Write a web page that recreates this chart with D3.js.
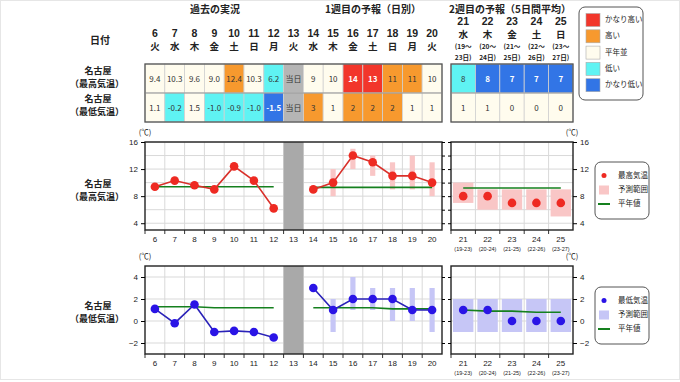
<!DOCTYPE html>
<html>
<head>
<meta charset="utf-8">
<script src="https://cdn.jsdelivr.net/npm/d3@7"></script>
<style>
  body { margin: 0; background: #fff; }
  svg { font-family: "Noto Sans CJK JP", "Liberation Sans", sans-serif; }
</style>
</head>
<body>
<div id="chart"></div>
<script>
// days / labels
var days1 = ["6","7","8","9","10","11","12","13","14","15","16","17","18","19","20"];
var wdays1 = ["火","水","木","金","土","日","月","火","水","木","金","土","日","月","火"];
var days2 = ["21","22","23","24","25"];
var wdays2 = ["水","木","金","土","日"];
var spanFrom2 = ["(19〜","(20〜","(21〜","(22〜","(23〜"];
var spanTo2 = ["23日)","24日)","25日)","26日)","27日)"];
var spanAxis2 = ["(19-23)","(20-24)","(21-25)","(22-26)","(23-27)"];

// table values and classes (vh=かなり高い, h=高い, n=平年並, l=低い, vl=かなり低い, t=当日)
var maxTable1 = ["9.4","10.3","9.6","9.0","12.4","10.3","6.2","当日","9","10","14","13","11","11","10"];
var maxClass1 = ["n","n","n","n","h","n","l","t","n","n","vh","vh","h","h","n"];
var minTable1 = ["1.1","-0.2","1.5","-1.0","-0.9","-1.0","-1.5","当日","3","1","2","2","2","1","1"];
var minClass1 = ["n","l","n","l","l","l","vl","t","h","n","h","h","h","n","n"];
var maxTable2 = ["8","8","7","7","7"];
var maxClass2 = ["l","vl","vl","vl","vl"];
var minTable2 = ["1","1","0","0","0"];
var minClass2 = ["n","n","n","n","n"];

// chart series
var pastDays = ["6","7","8","9","10","11","12"];
var fcDays = ["14","15","16","17","18","19","20"];

var maxPast = [9.4, 10.3, 9.6, 9.0, 12.4, 10.3, 6.2];
var maxPastNormal = [9.4, 9.4, 9.4, 9.4, 9.4, 9.4, 9.4];
var maxFc = [9, 10, 14, 13, 11, 11, 10];
var maxFcLow = [null, 8, 12, 11, 9, 9, 8];
var maxFcHigh = [null, 12, 15, 14, 13, 14, 13];
var maxFcNormal = [9.3, 9.3, 9.3, 9.3, 9.3, 9.3, 9.3];
var maxWk2 = [8, 8, 7, 7, 7];
var maxWk2Low = [7, 6, 6, 6, 5];
var maxWk2High = [10, 9, 9, 9, 9];
var maxWk2Normal = [9.2, 9.2, 9.2, 9.2, 9.2];

var minPast = [1.1, -0.2, 1.5, -1.0, -0.9, -1.0, -1.5];
var minPastNormal = [1.3, 1.3, 1.3, 1.2, 1.2, 1.2, 1.2];
var minFc = [3, 1, 2, 2, 2, 1, 1];
var minFcLow = [null, -1, 1, 1, 0, 0, -1];
var minFcHigh = [null, 2, 4, 3, 3, 3, 3];
var minFcNormal = [1.2, 1.2, 1.2, 1.2, 1.1, 1.1, 1.1];
var minWk2 = [1, 1, 0, 0, 0];
var minWk2Low = [-1, -1, -1, -1, -1];
var minWk2High = [2, 2, 2, 2, 2];
var minWk2Normal = [1.0, 0.9, 0.9, 0.8, 0.8];

var legendCats = ["vh","h","n","l","vl"];
var legendNames = ["かなり高い","高い","平年並","低い","かなり低い"];

var W = 680, H = 382;
var fillOf = {vh: "#f2362b", h: "#f7992e", n: "#fffcee", l: "#5ff3f3", vl: "#3275e6", t: "#b5b5b5"};
var numFont = "Liberation Sans, sans-serif";

var svg = d3.select("#chart").append("svg")
  .attr("width", W).attr("height", H);

svg.append("rect").attr("x", 0.5).attr("y", 0.5).attr("width", W - 1).attr("height", H - 3)
  .attr("fill", "#fff").attr("stroke", "#e6e6e6");

var x1 = d3.scaleBand().domain(days1).range([145, 442]);
var x2 = d3.scaleBand().domain(days2).range([451, 573]);

// ---- header ----
function txt(x, y, s, size, opts) {
  opts = opts || {};
  var t = svg.append("text").attr("x", x).attr("y", y)
    .attr("text-anchor", opts.anchor || "middle")
    .attr("dominant-baseline", "middle")
    .style("font-size", size + "px")
    .style("font-weight", opts.bold ? "bold" : "normal")
    .attr("fill", opts.fill || "#222")
    .text(s);
  if (opts.font) t.style("font-family", opts.font);
  return t;
}

txt(215, 10, "過去の実況", 10, {bold: true});
txt(373, 10, "1週目の予報（日別）", 10, {bold: true});
txt(510, 10, "2週目の予報（5日間平均）", 10, {bold: true});
txt(100, 41, "日付", 10, {bold: true});

days1.forEach(function(d, i) {
  var cx = x1(d) + x1.bandwidth() / 2;
  txt(cx, 34, d, 10.5, {bold: true, font: numFont});
  txt(cx, 47.5, wdays1[i], 9.5, {bold: true});
});
days2.forEach(function(d, i) {
  var cx = x2(d) + x2.bandwidth() / 2;
  txt(cx, 22.5, d, 10.5, {bold: true, font: numFont});
  txt(cx, 35, wdays2[i], 9.5, {bold: true});
  txt(cx, 47.5, spanFrom2[i], 6.6, {bold: true});
  txt(cx, 58, spanTo2[i], 6.6, {bold: true});
});

// ---- table ----
var rowMax = {y: 64, h: 29}, rowMin = {y: 93, h: 29};

function tableRow(x, days, vals, cls, row) {
  var g = svg.append("g");
  g.selectAll("rect").data(days).enter().append("rect")
    .attr("x", function(d) { return x(d); })
    .attr("y", row.y)
    .attr("width", x.bandwidth())
    .attr("height", row.h)
    .attr("fill", function(d, i) { return fillOf[cls[i]]; })
    .attr("stroke", "#d0d0d0").attr("stroke-width", 0.8);
  g.selectAll("text").data(days).enter().append("text")
    .attr("x", function(d) { return x(d) + x.bandwidth() / 2; })
    .attr("y", row.y + row.h / 2 + 1)
    .attr("text-anchor", "middle").attr("dominant-baseline", "middle")
    .style("font-size", "8px")
    .style("font-weight", function(d, i) { return (cls[i] == "vh" || cls[i] == "vl") ? "bold" : "normal"; })
    .attr("fill", function(d, i) { return (cls[i] == "vh" || cls[i] == "vl") ? "#fff" : "#333"; })
    .text(function(d, i) { return vals[i]; });
}
tableRow(x1, days1, maxTable1, maxClass1, rowMax);
tableRow(x1, days1, minTable1, minClass1, rowMin);
tableRow(x2, days2, maxTable2, maxClass2, rowMax);
tableRow(x2, days2, minTable2, minClass2, rowMin);

[[145, 442], [451, 573]].forEach(function(r) {
  svg.append("rect").attr("x", r[0]).attr("y", 64).attr("width", r[1] - r[0]).attr("height", 58)
    .attr("fill", "none").attr("stroke", "#555").attr("stroke-width", 1.3);
  svg.append("line").attr("x1", r[0]).attr("x2", r[1]).attr("y1", 93).attr("y2", 93)
    .attr("stroke", "#888").attr("stroke-width", 0.8);
});

txt(98, 71.5, "名古屋", 9, {bold: true});
txt(97, 84.5, "（最高気温）", 9, {bold: true});
txt(98, 99.5, "名古屋", 9, {bold: true});
txt(97, 112.5, "（最低気温）", 9, {bold: true});

// table legend
svg.append("rect").attr("x", 579).attr("y", 7).attr("width", 64).attr("height", 93).attr("rx", 6)
  .attr("fill", "#fff").attr("stroke", "#555").attr("stroke-width", 1);
legendCats.forEach(function(c, i) {
  var cy = 20 + i * 16.3;
  svg.append("rect").attr("x", 586).attr("y", cy - 6.5).attr("width", 14).attr("height", 13)
    .attr("fill", fillOf[c]).attr("stroke", "#aaa").attr("stroke-width", 0.6);
  txt(605, cy, legendNames[i], 7.5, {anchor: "start"});
});

// ---- charts ----
function drawChart(cfg) {
  var y = d3.scaleLinear().domain(cfg.domain).range([cfg.bottom, cfg.top]);
  var g = svg.append("g");

  [[x1, days1], [x2, days2]].forEach(function(p) {
    var sc = p[0], r = sc.range();
    // grid
    g.selectAll(null).data(d3.range(cfg.domain[0], cfg.domain[1] + 0.01, 1).filter(function(v) { return v % 2 == 0; }))
      .enter().append("line")
      .attr("x1", r[0]).attr("x2", r[1])
      .attr("y1", function(v) { return y(v); }).attr("y2", function(v) { return y(v); })
      .attr("stroke", "#d9d9d9").attr("stroke-width", 1);
    g.selectAll(null).data(p[1].slice(1)).enter().append("line")
      .attr("x1", function(d) { return sc(d); }).attr("x2", function(d) { return sc(d); })
      .attr("y1", cfg.top).attr("y2", cfg.bottom)
      .attr("stroke", "#d9d9d9").attr("stroke-width", 1);
    // bottom ticks
    g.selectAll(null).data(p[1]).enter().append("line")
      .attr("x1", function(d) { return sc(d); }).attr("x2", function(d) { return sc(d); })
      .attr("y1", cfg.bottom).attr("y2", cfg.bottom + 4)
      .attr("stroke", "#333");
  });

  // today column
  g.append("rect").attr("x", x1("13")).attr("y", cfg.top)
    .attr("width", x1.bandwidth()).attr("height", cfg.bottom - cfg.top)
    .attr("fill", "#a9a9a9");

  // range bars, week 1
  g.selectAll(null).data(fcDays.filter(function(d, i) { return cfg.fcLow[i] != null; }))
    .enter().append("rect")
    .attr("x", function(d) { return x1(d) + x1.bandwidth() / 2 - 2.6; })
    .attr("width", 5.2)
    .attr("y", function(d) { var i = fcDays.indexOf(d); return y(cfg.fcHigh[i]); })
    .attr("height", function(d) { var i = fcDays.indexOf(d); return y(cfg.fcLow[i]) - y(cfg.fcHigh[i]); })
    .attr("fill", cfg.rangeColor);

  // range boxes, week 2
  g.selectAll(null).data(days2).enter().append("rect")
    .attr("x", function(d) { return x2(d) + 2; })
    .attr("width", x2.bandwidth() - 4)
    .attr("y", function(d, i) { return y(cfg.wk2High[i]); })
    .attr("height", function(d, i) { return y(cfg.wk2Low[i]) - y(cfg.wk2High[i]); })
    .attr("fill", cfg.rangeColor);

  // normals
  var line1 = d3.line().x(function(d) { return x1(d[0]) + x1.bandwidth() / 2; }).y(function(d) { return y(d[1]); });
  var line2 = d3.line().x(function(d) { return x2(d[0]) + x2.bandwidth() / 2; }).y(function(d) { return y(d[1]); });
  g.append("path").datum(d3.zip(pastDays, cfg.pastNormal)).attr("d", line1)
    .attr("fill", "none").attr("stroke", "#15801e").attr("stroke-width", 1.6);
  g.append("path").datum(d3.zip(fcDays, cfg.fcNormal)).attr("d", line1)
    .attr("fill", "none").attr("stroke", "#15801e").attr("stroke-width", 1.6);
  g.append("path").datum(d3.zip(days2, cfg.wk2Normal)).attr("d", line2)
    .attr("fill", "none").attr("stroke", "#15801e").attr("stroke-width", 1.6);

  // values
  [[pastDays, cfg.past], [fcDays, cfg.fc]].forEach(function(s) {
    var pts = d3.zip(s[0], s[1]);
    g.append("path").datum(pts).attr("d", line1)
      .attr("fill", "none").attr("stroke", cfg.lineColor).attr("stroke-width", 1.6);
    g.selectAll(null).data(pts).enter().append("circle")
      .attr("cx", function(d) { return x1(d[0]) + x1.bandwidth() / 2; })
      .attr("cy", function(d) { return y(d[1]); })
      .attr("r", 4.3).attr("fill", cfg.dotColor);
  });
  g.selectAll(null).data(d3.zip(days2, cfg.wk2)).enter().append("circle")
    .attr("cx", function(d) { return x2(d[0]) + x2.bandwidth() / 2; })
    .attr("cy", function(d) { return y(d[1]); })
    .attr("r", 4.3).attr("fill", cfg.dotColor);

  // frames
  [x1.range(), x2.range()].forEach(function(r) {
    g.append("rect").attr("x", r[0]).attr("y", cfg.top).attr("width", r[1] - r[0])
      .attr("height", cfg.bottom - cfg.top)
      .attr("fill", "none").attr("stroke", "#222").attr("stroke-width", 1.4);
  });

  // y axes
  var all = d3.range(cfg.domain[0], cfg.domain[1] + 0.01, 1).filter(function(v) { return v % 2 == 0; });
  var axL = d3.axisLeft(y).tickValues(cfg.ticks).tickSize(4).tickFormat(d3.format("d"));
  var axR = d3.axisRight(y).tickValues(cfg.ticks).tickSize(4).tickFormat(d3.format("d"));
  var a1 = g.append("g").attr("transform", "translate(145,0)").call(axL);
  var a2 = g.append("g").attr("transform", "translate(573,0)").call(axR);
  [a1, a2].forEach(function(a) {
    a.select(".domain").remove();
    a.selectAll("text").style("font-size", "8px").style("font-family", numFont).attr("fill", "#222");
  });
  g.append("g").attr("transform", "translate(442,0)")
    .call(d3.axisRight(y).tickValues(all).tickSize(3).tickFormat(""))
    .select(".domain").remove();
  g.append("g").attr("transform", "translate(451,0)")
    .call(d3.axisLeft(y).tickValues(all).tickSize(3).tickFormat(""))
    .select(".domain").remove();

  txt(145, cfg.top - 9, "(℃)", 7.5);
  txt(572, cfg.top - 9, "(℃)", 7.5);

  // x labels
  days1.forEach(function(d) {
    txt(x1(d) + x1.bandwidth() / 2, cfg.bottom + 10, d, 8, {font: numFont});
  });
  days2.forEach(function(d, i) {
    txt(x2(d) + x2.bandwidth() / 2, cfg.bottom + 10, d, 8, {font: numFont});
    txt(x2(d) + x2.bandwidth() / 2, cfg.bottom + 20, spanAxis2[i], 5.5, {font: numFont});
  });

  // row label
  txt(98, cfg.labelY, "名古屋", 9, {bold: true});
  txt(97, cfg.labelY + 13, cfg.labelName, 9, {bold: true});

  // legend
  var ly = cfg.legendY;
  g.append("rect").attr("x", 595).attr("y", ly).attr("width", 54).attr("height", 57).attr("rx", 6)
    .attr("fill", "#fff").attr("stroke", "#555");
  g.append("circle").attr("cx", 604).attr("cy", ly + 13.5).attr("r", 2.5).attr("fill", cfg.dotColor);
  txt(618, ly + 13.5, cfg.legendName, 7.5, {anchor: "start"});
  g.append("rect").attr("x", 599).attr("y", ly + 23.5).attr("width", 10).attr("height", 9).attr("fill", cfg.rangeColor);
  txt(618, ly + 28, "予測範囲", 7.5, {anchor: "start"});
  g.append("line").attr("x1", 598).attr("x2", 610).attr("y1", ly + 42).attr("y2", ly + 42)
    .attr("stroke", "#15801e").attr("stroke-width", 2);
  txt(618, ly + 42, "平年値", 7.5, {anchor: "start"});
}

drawChart({
  domain: [3, 16], top: 142, bottom: 230, ticks: [4, 8, 12, 16],
  past: maxPast, pastNormal: maxPastNormal,
  fc: maxFc, fcLow: maxFcLow, fcHigh: maxFcHigh, fcNormal: maxFcNormal,
  wk2: maxWk2, wk2Low: maxWk2Low, wk2High: maxWk2High, wk2Normal: maxWk2Normal,
  dotColor: "#ee2a22", lineColor: "#d9302a", rangeColor: "#f9c6c6",
  labelY: 184.5, labelName: "（最高気温）", legendY: 162, legendName: "最高気温"
});

drawChart({
  domain: [-3, 5], top: 266, bottom: 354, ticks: [-2, 0, 2, 4],
  past: minPast, pastNormal: minPastNormal,
  fc: minFc, fcLow: minFcLow, fcHigh: minFcHigh, fcNormal: minFcNormal,
  wk2: minWk2, wk2Low: minWk2Low, wk2High: minWk2High, wk2Normal: minWk2Normal,
  dotColor: "#2a14e6", lineColor: "#2a22b8", rangeColor: "#c6c6f6",
  labelY: 306.5, labelName: "（最低気温）", legendY: 287, legendName: "最低気温"
});
</script>
</body>
</html>
